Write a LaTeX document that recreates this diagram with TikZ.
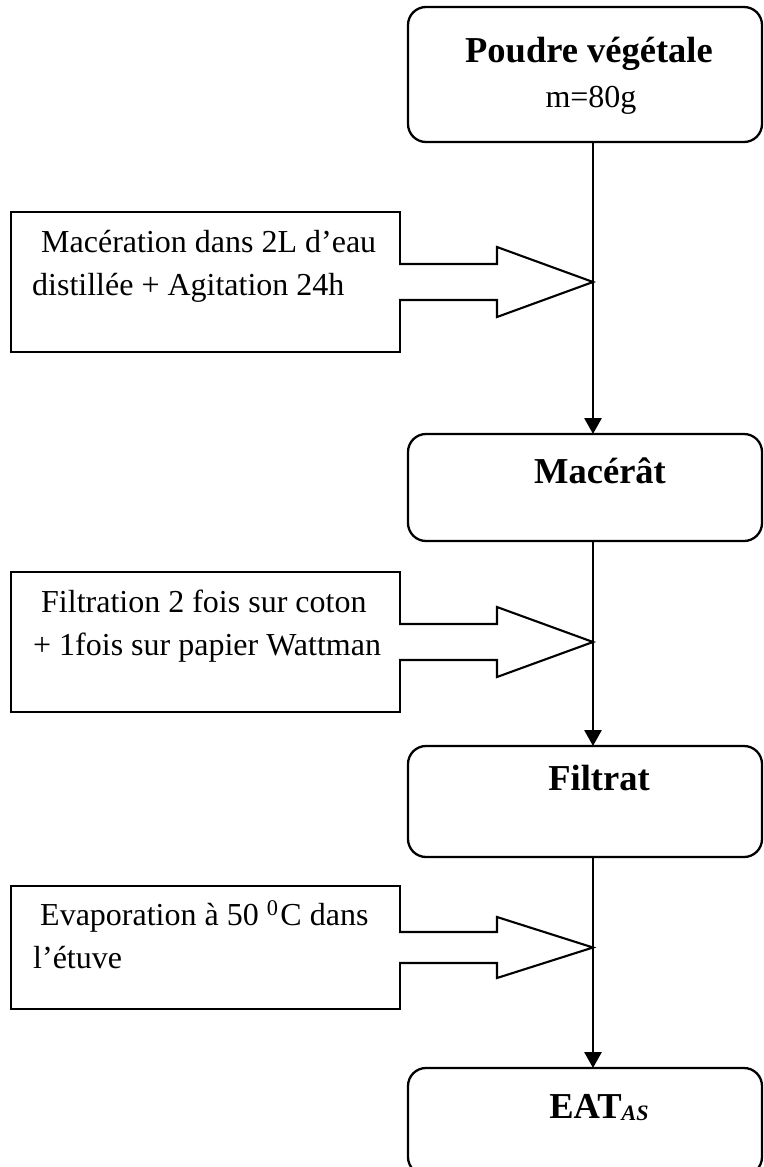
\documentclass[tikz,border=0pt]{standalone}
\usepackage{fontspec}
\setmainfont{Liberation Serif}
\usetikzlibrary{arrows.meta,calc}
\begin{document}
\begin{tikzpicture}[x=1pt,y=-1pt,
  roundbox/.style={draw,line width=2.3pt,rounded corners=18pt,inner sep=0pt,outer sep=0pt},
  sidebox/.style={draw,line width=2pt,inner sep=0pt,outer sep=0pt},
  bodytext/.style={inner sep=0pt,font=\fontsize{32}{38}\selectfont},
  titletext/.style={inner sep=0pt,font=\fontsize{36.5}{42}\selectfont\bfseries},
  flow/.style={line width=2.8pt,-{Triangle[width=17pt,length=16pt]}},
  blockarrow/.style={line width=2.1pt,line join=miter,fill=white}]
\useasboundingbox (0,0) rectangle (763,1167);
\coordinate (spine) at (593,0);

% main boxes
\node[roundbox,minimum width=354pt,minimum height=135pt] (b1) at (585,74.5) {};
\node[roundbox,minimum width=354pt,minimum height=107pt] (b2) at (585,487.5) {};
\node[roundbox,minimum width=354pt,minimum height=111pt] (b3) at (585,801.5) {};
\node[roundbox,minimum width=354pt,minimum height=107pt] (b4) at (585,1121.5) {};

\node[titletext,anchor=base] (t1) at (589,62) {Poudre végétale};
\node[bodytext,anchor=base] (t1m) at (591,107) {m=80g};
\node[titletext,anchor=base] (t2) at (600,483) {Macérât};
\node[titletext,anchor=base] (t3) at (599,790) {Filtrat};
\node[titletext,anchor=base] (t4) at (599,1118) {EAT\raisebox{-2pt}{\fontsize{22}{22}\selectfont\bfseries\itshape AS}};

% side boxes
\node[sidebox,minimum width=389pt,minimum height=140pt] (l1) at (205.5,282) {};
\node[sidebox,minimum width=389pt,minimum height=140pt] (l2) at (205.5,642) {};
\node[sidebox,minimum width=389pt,minimum height=123pt] (l3) at (205.5,947.5) {};

\node[bodytext,anchor=base west] (l1a) at (41,252) {Macération dans 2L d’eau};
\node[bodytext,anchor=base west] (l1b) at (32,295) {distillée + Agitation 24h};
\node[bodytext,anchor=base west] (l2a) at (41,612) {Filtration 2 fois sur coton};
\node[bodytext,anchor=base west] (l2b) at (33,655) {+ 1fois sur papier Wattman};
\node[bodytext,anchor=base west] (l3a) at (40,925) {Evaporation à 50 \textsuperscript{0}\kern2pt C dans};
\node[bodytext,anchor=base west] (l3b) at (33,968) {l’étuve};

% flow connectors
\draw[flow] (b1.south -| spine) -- (b2.north -| spine);
\draw[flow] (b2.south -| spine) -- (b3.north -| spine);
\draw[flow] (b3.south -| spine) -- (b4.north -| spine);

% block arrows
\foreach \bx/\s/\h in {l1/18/35, l2/18/35, l3/15.5/30.5}{
  \fill[white] ($(\bx.east)+(-1.6,-\s)$) rectangle ($(\bx.east)+(1.6,\s)$);
  \draw[blockarrow] ($(\bx.east)+(-1,-\s)$) -- ($(\bx.east)+(97,-\s)$)
     -- ($(\bx.east)+(97,-\h)$) -- (\bx.east -| spine)
     -- ($(\bx.east)+(97,\h)$) -- ($(\bx.east)+(97,\s)$)
     -- ($(\bx.east)+(-1,\s)$);
}
\end{tikzpicture}
\end{document}
